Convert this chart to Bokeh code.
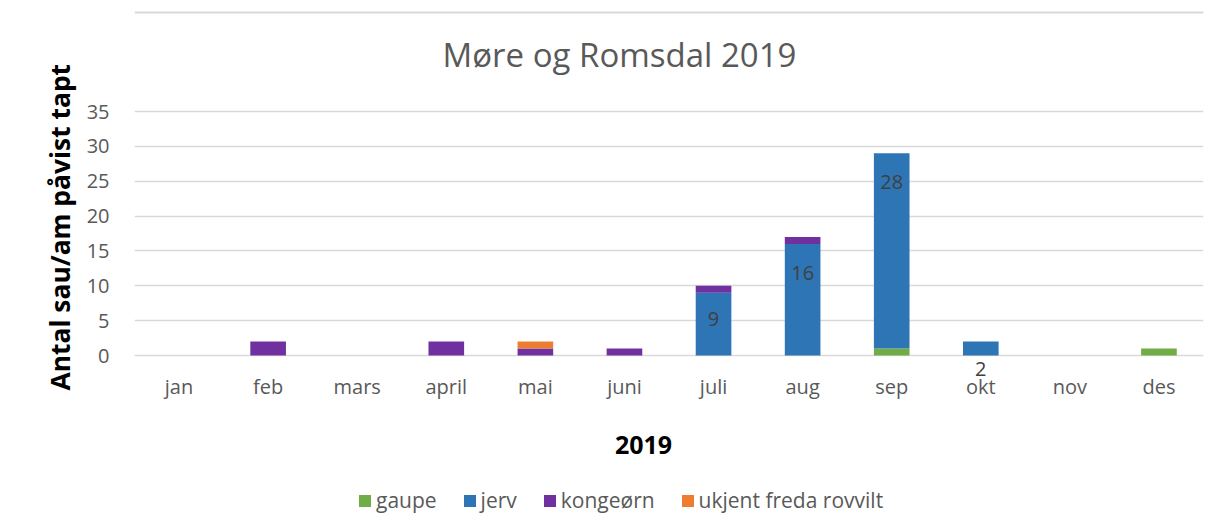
import math
from bokeh.plotting import figure
from bokeh.models import (FactorRange, Range1d, FixedTicker, Legend, LegendItem,
                          Title, Label, Span, ColumnDataSource)
from bokeh.core.properties import value
from bokeh.embed import file_html
from bokeh.resources import INLINE

# ---- data ----
months = ["jan", "feb", "mars", "april", "mai", "juni", "juli", "aug", "sep", "okt", "nov", "des"]
series = ["gaupe", "jerv", "kongeørn", "ukjent freda rovvilt"]
gaupe = [0, 0, 0, 0, 0, 0, 0, 0, 1, 0, 0, 1]
jerv = [0, 0, 0, 0, 0, 0, 9, 16, 28, 2, 0, 0]
kongeorn = [0, 2, 0, 2, 1, 1, 1, 1, 0, 0, 0, 0]
ukjent = [0, 0, 0, 0, 1, 0, 0, 0, 0, 0, 0, 0]
y_ticks = [0, 5, 10, 15, 20, 25, 30, 35]

# data labels of the jerv series (label text and where they sit)
jerv_label_months = ["juli", "aug", "sep", "okt"]
jerv_label_text = ["9", "16", "28", "2"]
jerv_label_y = [5.2, 11.9, 24.9, -1.9]

colors = ["#70AD47", "#2E75B6", "#7030A0", "#ED7D31"]
FONT = "Open Sans"

src = ColumnDataSource(data={"month": months, "gaupe": gaupe, "jerv": jerv,
                             "kongeørn": kongeorn, "ukjent freda rovvilt": ukjent})

# the frame spans the full height so that title, axis title and legend can live in it
p = figure(x_range=FactorRange(*months, range_padding=0), y_range=Range1d(-22.95, 49.78),
           frame_width=1069, frame_height=507, output_backend="svg", toolbar_location=None,
           min_border_left=134, min_border_right=10, min_border_top=8,
           min_border_bottom=8)
p.outline_line_color = None
p.background_fill_color = "white"
p.border_fill_color = "white"

renderers = p.vbar_stack(series, x="month", width=0.4, source=src, color=colors,
                         line_color=None)

# chart border (top edge)
p.add_layout(Span(location=49.2, dimension="width", line_color="#d9d9d9", line_width=2))

# axes
p.yaxis.ticker = FixedTicker(ticks=y_ticks)
for ax in (p.xaxis[0], p.yaxis[0]):
    ax.axis_line_color = None
    ax.major_tick_line_color = None
    ax.minor_tick_line_color = None
    ax.major_label_text_font = FONT
    ax.major_label_text_font_size = "20px"
    ax.major_label_text_color = "#595959"
p.yaxis.major_label_standoff = 19
p.xaxis.fixed_location = -5.52
p.xaxis.major_label_standoff = -27
p.xgrid.grid_line_color = None
p.ygrid.grid_line_color = "#d9d9d9"
p.ygrid.grid_line_width = 1.5

# data labels
p.text(x=jerv_label_months, y=jerv_label_y, text=jerv_label_text,
       text_font=value(FONT), text_font_size="20px", text_color="#404040",
       text_align="center", text_baseline="middle")

# chart title and x axis title (screen units from the frame's bottom-left)
p.add_layout(Label(x=485, y=461, x_units="screen", y_units="screen",
                   text="Møre og Romsdal 2019", text_font=FONT, text_font_size="33px",
                   text_color="#595959", text_align="center", text_baseline="middle"))
p.add_layout(Label(x=509, y=71, x_units="screen", y_units="screen", text="2019",
                   text_font=FONT, text_font_size="25px", text_font_style="bold",
                   text_color="black", text_align="center", text_baseline="middle"))

# y axis title
p.add_layout(Title(text="Antal sau/am påvist tapt", align="left", offset=125,
                   vertical_align="middle", standoff=9, text_font=FONT,
                   text_font_size="26.4px", text_font_style="bold", text_color="black"),
             "left")

legend = Legend(items=[LegendItem(label=s, renderers=[r]) for s, r in zip(series, renderers)],
                orientation="horizontal", location=(223, 1),
                glyph_width=15, glyph_height=15, label_standoff=4, spacing=25,
                padding=0, margin=0, border_line_color=None, background_fill_alpha=0,
                label_text_font=FONT, label_text_font_size="21px",
                label_text_color="#595959")
p.add_layout(legend, "center")

open("out.html", "w").write(file_html(p, INLINE))
